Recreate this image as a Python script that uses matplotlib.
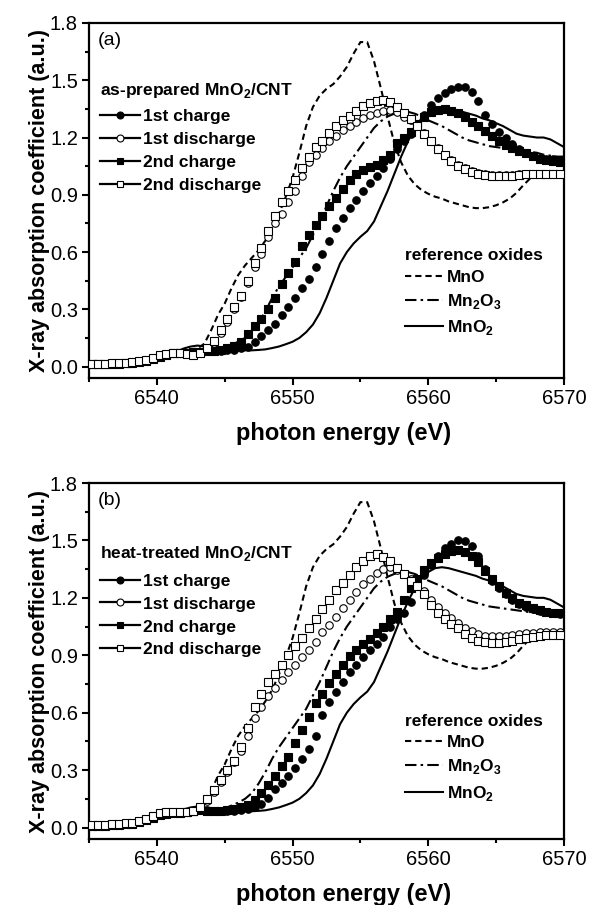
import numpy as np
import matplotlib
matplotlib.use("Agg")
import matplotlib.pyplot as plt
from matplotlib.lines import Line2D
from matplotlib.ticker import MultipleLocator, FormatStrFormatter

plt.rcParams['font.family'] = ['Liberation Sans', 'DejaVu Sans']
plt.rcParams['mathtext.fontset'] = 'custom'
plt.rcParams['mathtext.rm'] = 'Liberation Sans'
plt.rcParams['mathtext.bf'] = 'Liberation Sans:bold'

# ---------------- data ----------------
# reference oxides (same in both panels), 6535..6570 eV step 0.5
ref_energy = np.arange(6535.0, 6570.01, 0.5)
mno = [0.01, 0.01, 0.012, 0.013, 0.015, 0.017, 0.02, 0.025, 0.03, 0.04,
       0.05, 0.065, 0.075, 0.08, 0.085, 0.09, 0.095, 0.12, 0.19, 0.27,
       0.33, 0.41, 0.48, 0.53, 0.57, 0.61, 0.66, 0.72, 0.80, 0.89,
       0.99, 1.12, 1.26, 1.36, 1.42, 1.455, 1.48, 1.52, 1.57, 1.64,
       1.70, 1.70, 1.60, 1.46, 1.31, 1.17, 1.07, 1.00, 0.955, 0.925,
       0.905, 0.89, 0.88, 0.865, 0.855, 0.845, 0.835, 0.83, 0.83, 0.835,
       0.845, 0.86, 0.88, 0.91, 0.95, 0.985, 1.0, 1.005, 1.005, 1.005, 1.005]
mn2o3 = [0.01, 0.01, 0.012, 0.014, 0.016, 0.018, 0.022, 0.027, 0.033, 0.042,
         0.055, 0.065, 0.072, 0.078, 0.082, 0.085, 0.087, 0.088, 0.088, 0.09,
         0.10, 0.115, 0.13, 0.15, 0.18, 0.23, 0.29, 0.36, 0.42, 0.47,
         0.52, 0.57, 0.62, 0.69, 0.76, 0.84, 0.92, 0.99, 1.05, 1.10,
         1.15, 1.20, 1.25, 1.285, 1.31, 1.325, 1.335, 1.335, 1.325, 1.31,
         1.29, 1.275, 1.26, 1.24, 1.22, 1.20, 1.185, 1.175, 1.165, 1.155,
         1.15, 1.145, 1.14, 1.135, 1.13, 1.125, 1.12, 1.11, 1.105, 1.10, 1.10]
mno2 = [0.005, 0.005, 0.005, 0.006, 0.008, 0.01, 0.012, 0.016, 0.02, 0.03,
        0.045, 0.06, 0.07, 0.08, 0.095, 0.105, 0.11, 0.105, 0.10, 0.095,
        0.09, 0.087, 0.085, 0.085, 0.085, 0.087, 0.09, 0.097, 0.105, 0.117,
        0.13, 0.15, 0.18, 0.22, 0.28, 0.36, 0.45, 0.54, 0.60, 0.645,
        0.68, 0.71, 0.76, 0.84, 0.92, 1.01, 1.10, 1.18, 1.25, 1.30,
        1.335, 1.355, 1.36, 1.355, 1.345, 1.335, 1.325, 1.315, 1.30, 1.29,
        1.275, 1.26, 1.24, 1.22, 1.21, 1.205, 1.20, 1.20, 1.19, 1.17, 1.15]

# measured spectra, 6535.2..6569.7 eV step 0.5
energy = np.arange(6535.2, 6569.75, 0.5)

# (a) as-prepared MnO2/CNT
a_charge1 = [0.012, 0.012, 0.012, 0.013, 0.014, 0.016, 0.019, 0.024, 0.03, 0.04,
             0.052, 0.063, 0.07, 0.072, 0.072, 0.074, 0.078, 0.08, 0.08, 0.082,
             0.085, 0.088, 0.095, 0.105, 0.13, 0.16, 0.19, 0.225, 0.27, 0.31,
             0.36, 0.41, 0.46, 0.52, 0.59, 0.66, 0.725, 0.78, 0.83, 0.875,
             0.92, 0.96, 1.0, 1.04, 1.09, 1.14, 1.18, 1.22, 1.265, 1.32,
             1.37, 1.405, 1.435, 1.455, 1.465, 1.465, 1.44, 1.39, 1.32, 1.27,
             1.23, 1.195, 1.165, 1.14, 1.12, 1.105, 1.095, 1.09, 1.085, 1.08]
a_discharge1 = [0.015, 0.015, 0.015, 0.016, 0.017, 0.019, 0.022, 0.027, 0.033, 0.045,
                0.058, 0.068, 0.073, 0.072, 0.066, 0.062, 0.07, 0.09, 0.125, 0.175,
                0.235, 0.30, 0.365, 0.44, 0.52, 0.59, 0.68, 0.75, 0.80, 0.86,
                0.92, 1.00, 1.07, 1.11, 1.145, 1.18, 1.21, 1.24, 1.26, 1.28,
                1.30, 1.32, 1.33, 1.34, 1.345, 1.335, 1.31, 1.29, 1.26, 1.225,
                1.18, 1.145, 1.11, 1.08, 1.055, 1.04, 1.025, 1.015, 1.01, 1.005,
                1.005, 1.005, 1.005, 1.01, 1.01, 1.01, 1.01, 1.01, 1.01, 1.01]
a_charge2 = [0.012, 0.012, 0.012, 0.013, 0.014, 0.016, 0.019, 0.024, 0.03, 0.04,
             0.052, 0.063, 0.07, 0.072, 0.072, 0.074, 0.078, 0.08, 0.08, 0.085,
             0.095, 0.11, 0.13, 0.17, 0.21, 0.25, 0.30, 0.36, 0.43, 0.49,
             0.55, 0.63, 0.69, 0.74, 0.79, 0.84, 0.885, 0.93, 0.975, 1.01,
             1.03, 1.045, 1.055, 1.08, 1.11, 1.17, 1.20, 1.23, 1.27, 1.31,
             1.335, 1.345, 1.35, 1.34, 1.33, 1.305, 1.28, 1.26, 1.235, 1.21,
             1.18, 1.16, 1.145, 1.13, 1.12, 1.105, 1.09, 1.08, 1.075, 1.07]
a_discharge2 = [0.015, 0.015, 0.015, 0.016, 0.017, 0.019, 0.022, 0.027, 0.033, 0.045,
                0.058, 0.068, 0.073, 0.072, 0.066, 0.062, 0.072, 0.095, 0.135, 0.19,
                0.25, 0.31, 0.37, 0.45, 0.54, 0.62, 0.71, 0.79, 0.86, 0.92,
                0.98, 1.04, 1.10, 1.15, 1.18, 1.225, 1.26, 1.29, 1.315, 1.34,
                1.365, 1.38, 1.39, 1.395, 1.385, 1.36, 1.33, 1.295, 1.26, 1.22,
                1.18, 1.14, 1.11, 1.075, 1.05, 1.035, 1.02, 1.01, 1.005, 1.0,
                1.0, 1.0, 1.0, 1.005, 1.01, 1.01, 1.01, 1.01, 1.01, 1.01]

# (b) heat-treated MnO2/CNT
b_charge1 = [0.01, 0.01, 0.01, 0.011, 0.013, 0.016, 0.02, 0.027, 0.038, 0.052,
             0.065, 0.072, 0.075, 0.077, 0.08, 0.085, 0.09, 0.09, 0.088, 0.085,
             0.085, 0.087, 0.09, 0.095, 0.105, 0.125, 0.155, 0.20, 0.235, 0.27,
             0.31, 0.36, 0.41, 0.48, 0.59, 0.655, 0.71, 0.76, 0.81, 0.85,
             0.89, 0.925, 0.96, 0.995, 1.05, 1.09, 1.12, 1.18, 1.26, 1.32,
             1.37, 1.42, 1.46, 1.48, 1.50, 1.495, 1.47, 1.42, 1.35, 1.29,
             1.25, 1.22, 1.19, 1.17, 1.15, 1.14, 1.13, 1.125, 1.12, 1.115]
b_discharge1 = [0.015, 0.015, 0.015, 0.016, 0.018, 0.021, 0.026, 0.033, 0.045, 0.062,
                0.075, 0.08, 0.08, 0.08, 0.08, 0.085, 0.10, 0.14, 0.185, 0.24,
                0.29, 0.34, 0.40, 0.48, 0.57, 0.63, 0.685, 0.73, 0.77, 0.81,
                0.85, 0.89, 0.93, 0.97, 1.02, 1.06, 1.10, 1.145, 1.19, 1.23,
                1.27, 1.30, 1.33, 1.35, 1.36, 1.345, 1.325, 1.30, 1.27, 1.235,
                1.19, 1.15, 1.12, 1.095, 1.07, 1.045, 1.025, 1.01, 1.0, 1.0,
                1.0, 1.0, 1.005, 1.01, 1.015, 1.015, 1.02, 1.02, 1.02, 1.02]
b_charge2 = [0.01, 0.01, 0.01, 0.011, 0.013, 0.016, 0.02, 0.027, 0.038, 0.052,
             0.065, 0.072, 0.075, 0.077, 0.08, 0.085, 0.09, 0.088, 0.087, 0.088,
             0.09, 0.095, 0.105, 0.12, 0.145, 0.18, 0.22, 0.27, 0.32, 0.37,
             0.44, 0.51, 0.58, 0.65, 0.70, 0.755, 0.80, 0.85, 0.895, 0.93,
             0.96, 0.985, 1.015, 1.05, 1.09, 1.125, 1.19, 1.25, 1.30, 1.345,
             1.38, 1.41, 1.43, 1.445, 1.45, 1.44, 1.42, 1.385, 1.34, 1.30,
             1.26, 1.225, 1.20, 1.175, 1.16, 1.145, 1.135, 1.125, 1.12, 1.12]
b_discharge2 = [0.015, 0.015, 0.015, 0.016, 0.018, 0.021, 0.026, 0.033, 0.045, 0.062,
                0.075, 0.08, 0.08, 0.08, 0.08, 0.085, 0.105, 0.15, 0.195, 0.25,
                0.30, 0.35, 0.42, 0.52, 0.63, 0.70, 0.76, 0.80, 0.85, 0.90,
                0.95, 0.99, 1.04, 1.09, 1.14, 1.19, 1.24, 1.28, 1.32, 1.36,
                1.39, 1.42, 1.43, 1.415, 1.39, 1.355, 1.325, 1.29, 1.26, 1.22,
                1.165, 1.12, 1.09, 1.065, 1.045, 1.01, 0.99, 0.975, 0.97, 0.965,
                0.965, 0.97, 0.975, 0.985, 0.99, 0.995, 1.0, 1.005, 1.005, 1.005]

series_labels = ['1st charge', '1st discharge', '2nd charge', '2nd discharge']
ref_title = 'reference oxides'
ref_labels = ['MnO', r'Mn$_\mathbf{2}$O$_\mathbf{3}$', r'MnO$_\mathbf{2}$']
panels = [
    ('(a)', r'as-prepared MnO$_\mathbf{2}$/CNT',
     [a_charge1, a_discharge1, a_charge2, a_discharge2]),
    ('(b)', r'heat-treated MnO$_\mathbf{2}$/CNT',
     [b_charge1, b_discharge1, b_charge2, b_discharge2]),
]

# ---------------- styles ----------------
marker_styles = [dict(marker='o', mfc='black'), dict(marker='o', mfc='white'),
                 dict(marker='s', mfc='black'), dict(marker='s', mfc='white')]
ref_styles = [dict(ls=(0, (3.0, 1.9))), dict(ls=(0, (5.5, 2.0, 1.2, 2.0))), dict(ls='-')]

W, H = 591, 905
fig = plt.figure(figsize=(W / 100, H / 100), dpi=100)
boxes = [(89, 23, 564, 378), (89, 483, 564, 839)]
# legend anchor positions (axes fraction) per panel
title_y = [0.811, 0.803]
leg_y = [0.757, 0.746]
ref_title_y = [0.346, 0.330]
ref_leg_y = [0.305, 0.292]
FS = 12.5

for i, ((lbl, title, data), (x0, y0, x1, y1)) in enumerate(zip(panels, boxes)):
    ax = fig.add_axes([x0 / W, 1 - y1 / H, (x1 - x0) / W, (y1 - y0) / H])
    for vals, st in zip([mno, mn2o3, mno2], ref_styles):
        ax.plot(ref_energy, vals, color='black', lw=1.5, zorder=2, **st)
    for vals, st in zip(data, marker_styles):
        ax.plot(energy, vals, ls='none', ms=5.4, mec='black', mew=0.8,
                zorder=3, **st)

    ax.set_xlim(6535, 6570)
    ax.set_ylim(-0.06, 1.8)
    ax.xaxis.set_major_locator(MultipleLocator(10))
    ax.xaxis.set_minor_locator(MultipleLocator(5))
    ax.yaxis.set_major_locator(MultipleLocator(0.3))
    ax.yaxis.set_minor_locator(MultipleLocator(0.15))
    ax.yaxis.set_major_formatter(FormatStrFormatter('%.1f'))
    ax.tick_params(which='major', direction='out', length=5, width=1.5,
                   labelsize=14.5, pad=3)
    ax.tick_params(which='minor', direction='out', length=3, width=1.5)
    for s in ax.spines.values():
        s.set_linewidth(1.6)
    ax.set_xlabel('photon energy (eV)', fontsize=17, fontweight='bold',
                  labelpad=10, x=0.535)
    ax.set_ylabel('X-ray absorption coefficient (a.u.)', fontsize=15.5,
                  fontweight='bold', labelpad=0)
    ax.text(0.018, 0.975, lbl, transform=ax.transAxes, fontsize=14,
            ha='left', va='top')

    ax.text(0.023, title_y[i], title, transform=ax.transAxes, fontsize=FS,
            fontweight='bold', ha='left', va='center')
    handles = [Line2D([], [], color='black', lw=1.6, ms=5, mec='black', mew=0.8,
                      **st) for st in marker_styles]
    leg1 = ax.legend(handles, series_labels, loc='upper left',
                     bbox_to_anchor=(0.023, leg_y[i]), frameon=False, numpoints=1,
                     handlelength=2.3, handletextpad=0.2, labelspacing=0.45,
                     borderaxespad=0.0, borderpad=0.0,
                     prop=dict(weight='bold', size=FS))
    ax.add_artist(leg1)

    ax.text(0.665, ref_title_y[i], ref_title, transform=ax.transAxes, fontsize=FS,
            fontweight='bold', ha='left', va='center')
    rhandles = [Line2D([], [], color='black', lw=1.5, **st) for st in ref_styles]
    ax.legend(rhandles, ref_labels, loc='upper left',
              bbox_to_anchor=(0.665, ref_leg_y[i]), frameon=False,
              handlelength=2.2, handletextpad=0.2, labelspacing=0.42,
              borderaxespad=0.0, borderpad=0.0,
              prop=dict(weight='bold', size=FS))

fig.savefig('out.png', dpi=100)
